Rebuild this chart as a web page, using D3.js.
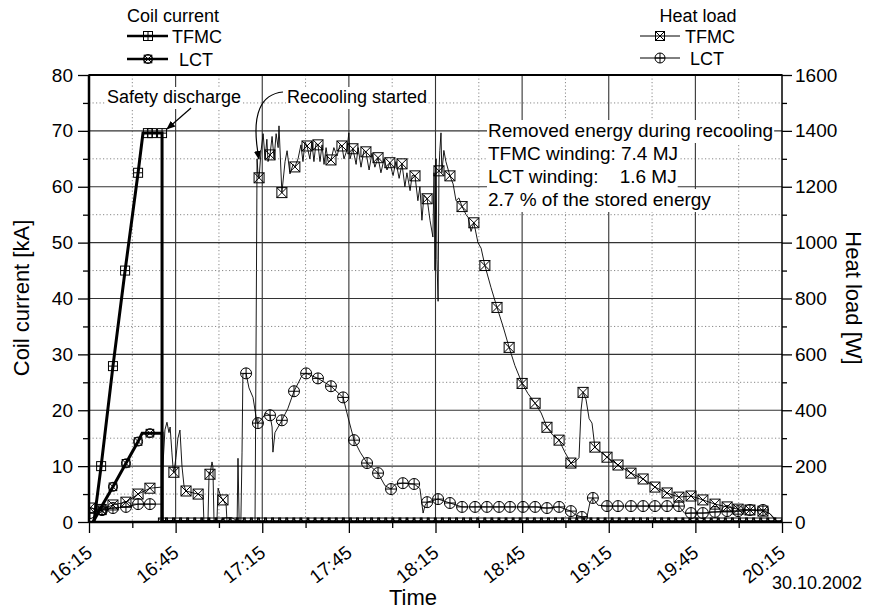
<!DOCTYPE html>
<html><head><meta charset="utf-8">
<script src="https://cdn.jsdelivr.net/npm/d3@7"></script>
<style>
body{margin:0;background:#fff}
svg{display:block}
text{font-family:"Liberation Sans",Arial,Helvetica,sans-serif;fill:#000}
</style>
</head><body>
<svg id="c" width="870" height="611"></svg>
<script>
// ---------------- DATA ----------------
// time values are minutes after 16:15 on 30.10.2002
const xTickLabels = ["16:15","16:45","17:15","17:45","18:15","18:45","19:15","19:45","20:15"];
const coilTicks = [0,10,20,30,40,50,60,70,80];
const heatTicks = [0,200,400,600,800,1000,1200,1400,1600];

// Coil current [kA]
const coilTFMC = [[1.7,0],[4.2,10],[8.3,27.9],[12.5,45],[17.0,62.5],[18.7,69.6],[25.3,69.6],[25.3,0],[240,0]];
const coilTFMCMarkers = [[4.2,10],[8.3,27.9],[12.5,45],[17.0,62.5],[20.4,69.6],[21.8,69.6],[25.3,69.6]];
const coilLCT = [[1.4,0],[4.5,2.9],[8.3,6.3],[12.8,10.5],[17.0,14.4],[18.4,15.9],[25.3,15.9],[25.3,0],[240,0]];
const coilLCTMarkers = [[4.5,2.0],[8.3,6.3],[12.8,10.5],[17.0,14.4],[21.1,15.9]];
const coilZeroFrom = 25.6, coilZeroTo = 240; // both currents are 0 after the safety discharge

// Heat load [W]
const heatTFMC = [[0.3,50],[4.2,45],[8.3,61],[12.8,71],[17.0,100],[21.1,121],[25.3,125],[25.6,200],[26.3,330],[27.0,357],[27.7,320],[28.1,340],[28.7,250],[29.1,196],[29.4,178],[30.1,230],[30.8,300],[31.5,329],[32.2,200],[32.9,130],[33.6,111],[35.7,105],[37.8,100],[39.5,95],[39.8,0],[41.2,0],[41.6,180],[41.9,171],[42.6,215],[42.9,200],[43.3,0],[44.3,0],[44.7,121],[45.7,90],[46.4,79],[47.5,60],[47.8,0],[51.3,0],[51.6,228],[52.0,0],[57.5,0],[58.0,900],[58.2,1300],[58.5,1250],[58.9,1232],[59.6,1330],[60.3,1390],[61.0,1300],[61.6,1370],[62.0,1290],[62.7,1314],[63.4,1380],[64.1,1300],[64.8,1390],[65.5,1340],[65.8,1418],[66.8,1179],[67.9,1290],[68.6,1329],[69.6,1246],[70.7,1280],[71.3,1271],[72.4,1300],[73.4,1350],[74.1,1290],[74.8,1360],[75.5,1346],[76.5,1300],[77.2,1360],[77.9,1290],[78.6,1355],[79.3,1350],[80.0,1290],[80.7,1350],[81.4,1280],[82.1,1340],[82.8,1290],[83.8,1296],[84.8,1340],[85.9,1310],[86.9,1350],[87.6,1346],[88.3,1300],[89.3,1330],[90.0,1393],[90.4,1300],[91.4,1336],[92.5,1280],[93.2,1340],[94.2,1270],[95.2,1330],[95.9,1325],[97.0,1260],[98.0,1320],[99.0,1270],[100.1,1304],[101.1,1250],[102.2,1300],[103.2,1260],[104.2,1286],[105.3,1240],[106.3,1290],[107.4,1230],[108.4,1282],[109.4,1200],[110.1,1250],[111.2,1186],[111.9,1240],[112.9,1239],[113.9,1150],[114.6,1200],[115.3,1080],[116.0,1170],[117.1,1157],[118.1,1080],[119.1,1020],[119.5,1250],[119.8,900],[120.2,1300],[120.5,940],[120.9,790],[121.2,1257],[121.5,1330],[121.9,1393],[122.2,1250],[122.9,1330],[123.6,1290],[125.0,1239],[126.1,1210],[127.1,1150],[128.1,1160],[129.2,1129],[130.6,1100],[131.3,1090],[132.3,1040],[133.3,1071],[134.7,1000],[135.8,980],[137.1,918],[139.2,840],[141.3,768],[143.4,700],[145.5,625],[147.5,560],[150.0,496],[152.0,460],[154.5,425],[156.6,390],[158.6,339],[160.7,310],[162.8,293],[164.8,250],[166.9,211],[168.3,215],[169.7,230],[170.4,400],[171.1,464],[172.1,440],[173.2,370],[174.2,354],[175.2,268],[177.3,250],[179.4,232],[183.2,204],[187.7,175],[191.9,154],[196.0,125],[200.2,104],[204.3,89],[208.5,93],[212.6,79],[216.8,64],[221.0,54],[224.8,46],[228.9,43],[233.4,39],[235.8,30],[237.6,7]];
const heatTFMCMarkers = [[0.3,50],[4.2,45],[8.3,61],[12.8,71],[17.0,100],[21.1,121],[29.4,178],[33.6,111],[37.8,100],[41.9,171],[46.4,79],[58.9,1232],[62.7,1314],[66.8,1179],[71.3,1271],[75.5,1346],[79.3,1350],[83.8,1296],[87.6,1346],[91.4,1336],[95.9,1325],[100.1,1304],[104.2,1286],[108.4,1282],[112.9,1239],[117.1,1157],[121.2,1257],[125.0,1239],[129.2,1129],[133.3,1071],[137.1,918],[141.3,768],[145.5,625],[150.0,496],[154.5,425],[158.6,339],[162.8,293],[166.9,211],[171.1,464],[175.2,268],[179.4,232],[183.2,204],[187.7,175],[191.9,154],[196.0,125],[200.2,104],[204.3,89],[208.5,93],[212.6,79],[216.8,64],[221.0,54],[224.8,46],[228.9,43],[233.4,39]];
const heatLCT = [[0,32],[4.5,43],[8.3,50],[12.8,54],[17.0,64],[21.1,64],[25.3,64],[25.6,5],[45.4,5],[47.1,15],[49.5,15],[51.3,5],[52.6,5],[53.0,250],[53.3,530],[54.4,532],[55.4,480],[56.8,446],[58.2,354],[58.5,354],[59.9,370],[61.3,390],[62.7,382],[63.4,340],[63.7,250],[64.4,320],[66.8,364],[68.9,407],[71.0,468],[73.8,525],[75.2,532],[79.3,514],[83.8,486],[88.0,446],[89.7,375],[91.8,293],[93.9,250],[96.3,211],[100.1,175],[102.5,130],[104.6,118],[106.0,135],[108.7,139],[112.6,136],[114.6,120],[115.7,32],[116.4,60],[117.1,71],[120.9,82],[125.0,68],[129.2,54],[133.7,54],[137.8,54],[142.0,54],[145.8,54],[150.3,54],[154.5,54],[158.6,50],[162.8,54],[166.9,39],[168.6,25],[170.7,18],[172.5,20],[173.5,70],[174.5,86],[176.3,60],[179.4,57],[183.2,57],[187.7,57],[191.9,57],[196.0,57],[200.2,57],[204.3,57],[206.4,30],[208.5,32],[212.6,32],[216.8,36],[221.0,39],[224.8,39],[228.9,43],[233.4,43],[235.8,30],[237.6,11]];
const heatLCTMarkers = [[0.3,32],[4.5,43],[8.3,50],[12.8,54],[17.0,64],[21.1,64],[54.4,532],[58.5,354],[62.7,382],[66.8,364],[71.0,468],[75.2,532],[79.3,514],[83.8,486],[88.0,446],[91.8,293],[96.3,211],[100.1,175],[104.6,118],[108.7,139],[112.6,136],[117.1,71],[120.9,82],[125.0,68],[129.2,54],[133.7,54],[137.8,54],[142.0,54],[145.8,54],[150.3,54],[154.5,54],[158.6,50],[162.8,54],[166.9,39],[170.7,18],[174.5,86],[179.4,57],[183.2,57],[187.7,57],[191.9,57],[196.0,57],[200.2,57],[204.3,57],[208.5,32],[212.6,32],[216.8,36],[221.0,39],[224.8,39],[228.9,43],[233.4,43]];

const annotationLines = ["Removed energy during recooling","TFMC winding: 7.4 MJ","LCT winding:\u00a0\u00a0\u00a0\u00a01.6 MJ","2.7 % of the stored energy"];

// ---------------- CHART ----------------
const svg = d3.select("#c");
const L=89, R=782, T=75, B=522;
const base = new Date(2002,9,30,16,15,0);
const tm = m => new Date(base.getTime()+m*60000);
const parseHM = d3.timeParse("%Y-%m-%d %H:%M");
const xMajor = xTickLabels.map(s => parseHM("2002-10-30 "+s));
const xMinor = xMajor.slice(0,-1).map(d => new Date(d.getTime()+15*60000));

const x = d3.scaleTime().domain([xMajor[0], xMajor[xMajor.length-1]]).range([L,R]);
const yC = d3.scaleLinear().domain([0,80]).range([B,T]);
const yH = d3.scaleLinear().domain([0,1600]).range([B,T]);
const coilMinor = coilTicks.slice(0,-1).map(v=>v+5);

svg.append("rect").attr("width",870).attr("height",611).attr("fill","#fff");
svg.append("defs").append("clipPath").attr("id","plot").append("rect")
  .attr("x",L).attr("y",T-8).attr("width",R-L).attr("height",B-T+8);

// grid
const grid = svg.append("g");
grid.selectAll(".hm").data(coilMinor).join("line")
  .attr("x1",L).attr("x2",R).attr("y1",d=>yC(d)).attr("y2",d=>yC(d))
  .attr("stroke","#888").attr("stroke-width",1).attr("stroke-dasharray","1.2,2.3");
grid.selectAll(".vm").data(xMinor).join("line")
  .attr("y1",T).attr("y2",B).attr("x1",d=>x(d)).attr("x2",d=>x(d))
  .attr("stroke","#888").attr("stroke-width",1).attr("stroke-dasharray","1.2,2.3");
grid.selectAll(".hM").data(coilTicks.slice(1,-1)).join("line")
  .attr("x1",L).attr("x2",R).attr("y1",d=>yC(d)).attr("y2",d=>yC(d))
  .attr("stroke","#333").attr("stroke-width",1.1);
grid.selectAll(".vM").data(xMajor.slice(1,-1)).join("line")
  .attr("y1",T).attr("y2",B).attr("x1",d=>x(d)).attr("x2",d=>x(d))
  .attr("stroke","#333").attr("stroke-width",1.1);

// annotation boxes (white background text)
function boxedText(g, tx, ty, str, size, anchor){
  const t = g.append("text").attr("x",tx).attr("y",ty).attr("font-size",size)
    .attr("text-anchor",anchor||"start").text(str);
  const bb = t.node().getBBox();
  g.insert("rect","text").attr("x",bb.x-1).attr("y",bb.y).attr("width",bb.width+2).attr("height",bb.height+2).attr("fill","#fff");
  return t;
}

// markers
function marker(g, type, cx, cy, s){
  const h = s/2;
  const m = g.append("g").attr("fill","none").attr("stroke","#000").attr("stroke-width",1);
  if (type==="sqPlus"){
    m.append("rect").attr("x",cx-h).attr("y",cy-h).attr("width",s).attr("height",s);
    m.append("path").attr("d",`M${cx-h},${cy}H${cx+h}M${cx},${cy-h}V${cy+h}`);
  } else if (type==="sqX"){
    m.append("rect").attr("x",cx-h).attr("y",cy-h).attr("width",s).attr("height",s);
    m.append("path").attr("d",`M${cx-h},${cy-h}L${cx+h},${cy+h}M${cx-h},${cy+h}L${cx+h},${cy-h}`);
  } else if (type==="cirX"){
    m.append("circle").attr("cx",cx).attr("cy",cy).attr("r",h);
    m.append("rect").attr("x",cx-h*0.85).attr("y",cy-h*0.85).attr("width",s*0.85).attr("height",s*0.85);
    m.append("path").attr("d",`M${cx-h*0.7},${cy-h*0.7}L${cx+h*0.7},${cy+h*0.7}M${cx-h*0.7},${cy+h*0.7}L${cx+h*0.7},${cy-h*0.7}`);
  } else if (type==="cirPlus"){
    m.append("circle").attr("cx",cx).attr("cy",cy).attr("r",h);
    m.append("path").attr("d",`M${cx-h},${cy}H${cx+h}M${cx},${cy-h}V${cy+h}`);
  }
}

const plot = svg.append("g").attr("clip-path","url(#plot)");
const lineC = d3.line().x(d=>x(tm(d[0]))).y(d=>yC(d[1]));
const lineH = d3.line().x(d=>x(tm(d[0]))).y(d=>yH(d[1]));

// heat load lines (thin)
plot.append("path").attr("d",lineH(heatLCT)).attr("fill","none").attr("stroke","#000").attr("stroke-width",0.9);
plot.append("path").attr("d",lineH(heatTFMC)).attr("fill","none").attr("stroke","#000").attr("stroke-width",0.9);
heatLCTMarkers.forEach(d=>marker(plot,"cirPlus",x(tm(d[0])),yH(d[1]),11));
heatTFMCMarkers.forEach(d=>marker(plot,"sqX",x(tm(d[0])),yH(d[1]),10));

// coil current lines (thick)
plot.append("path").attr("d",lineC(coilLCT)).attr("fill","none").attr("stroke","#000").attr("stroke-width",3);
plot.append("path").attr("d",lineC(coilTFMC)).attr("fill","none").attr("stroke","#000").attr("stroke-width",3);
coilTFMCMarkers.forEach(d=>marker(plot,"sqPlus",x(tm(d[0])),yC(d[1]),9));
coilLCTMarkers.forEach(d=>marker(plot,"cirX",x(tm(d[0])),yC(d[1]),9));
// zero-current symbols along the baseline (clipped, half visible)
const zeroClip = svg.append("defs").append("clipPath").attr("id","zc").append("rect")
  .attr("x",L).attr("y",T).attr("width",R-L).attr("height",B-T);
const zg = svg.append("g").attr("clip-path","url(#zc)");
d3.range(coilZeroFrom, coilZeroTo, 2.45).forEach(m=>marker(zg,"sqX",x(tm(m)),yC(0)+0.5,9));

// frame
svg.append("rect").attr("x",L).attr("y",T).attr("width",R-L).attr("height",B-T)
  .attr("fill","none").attr("stroke","#000").attr("stroke-width",1.5);
svg.append("line").attr("x1",L).attr("x2",L).attr("y1",T).attr("y2",B).attr("stroke","#000").attr("stroke-width",2.5);
svg.append("line").attr("x1",L).attr("x2",R).attr("y1",T).attr("y2",T).attr("stroke","#000").attr("stroke-width",2);
svg.append("line").attr("x1",L).attr("x2",R).attr("y1",B).attr("y2",B).attr("stroke","#000").attr("stroke-width",2.5);

// axes
const FS = 19;
function styleAxis(g){
  g.select(".domain").remove();
  g.selectAll("line").attr("stroke","#000").attr("stroke-width",1.3);
  g.selectAll("text").attr("font-size",FS).attr("font-family","'Liberation Sans',Arial,sans-serif").attr("fill","#000");
}
svg.append("g").attr("transform",`translate(${L},0)`)
  .call(d3.axisLeft(yC).tickValues(coilTicks).tickSize(11).tickPadding(5)).call(styleAxis);
svg.append("g").attr("transform",`translate(${L},0)`)
  .call(d3.axisLeft(yC).tickValues(coilMinor).tickSize(6).tickFormat("")).call(styleAxis);
svg.append("g").attr("transform",`translate(${R},0)`)
  .call(d3.axisRight(yH).tickValues(heatTicks).tickSize(10).tickPadding(3).tickFormat(d3.format("d"))).call(styleAxis);
svg.append("g").attr("transform",`translate(${R},0)`)
  .call(d3.axisRight(yH).tickValues(coilMinor.map(v=>v*20)).tickSize(5).tickFormat("")).call(styleAxis);
const xa = svg.append("g").attr("transform",`translate(0,${B})`)
  .call(d3.axisBottom(x).tickValues(xMajor).tickSize(11).tickFormat(d3.timeFormat("%H:%M"))).call(styleAxis);
xa.selectAll("text").attr("text-anchor","end").attr("x",4).attr("y",33).attr("dy",0)
  .attr("transform","rotate(-38 4 33)");
svg.append("g").attr("transform",`translate(0,${B})`)
  .call(d3.axisBottom(x).tickValues(xMinor).tickSize(6).tickFormat("")).call(styleAxis);

// axis titles
svg.append("text").attr("transform","translate(29,298) rotate(-90)").attr("text-anchor","middle")
  .attr("font-size",22).text("Coil current [kA]");
svg.append("text").attr("transform","translate(846,298) rotate(90)").attr("text-anchor","middle")
  .attr("font-size",22).text("Heat load [W]");
svg.append("text").attr("x",413).attr("y",605).attr("text-anchor","middle").attr("font-size",22).text("Time");
svg.append("text").attr("x",862).attr("y",589).attr("text-anchor","end").attr("font-size",18).text("30.10.2002");

// annotations
const ann = svg.append("g");
boxedText(ann, 107, 103, "Safety discharge", 18);
boxedText(ann, 287, 103, "Recooling started", 18);
annotationLines.forEach((s,i)=>boxedText(ann, 488, 137+i*23, s, 19));

// arrows
const defs = svg.append("defs");
defs.append("marker").attr("id","ah").attr("viewBox","0 0 10 10").attr("refX",9).attr("refY",5)
  .attr("markerWidth",9).attr("markerHeight",9).attr("markerUnits","userSpaceOnUse").attr("orient","auto")
  .append("path").attr("d","M0,1L10,5L0,9Z").attr("fill","#000");
ann.append("path").attr("d","M191,108L167,129").attr("stroke","#000").attr("stroke-width",1.2).attr("fill","none").attr("marker-end","url(#ah)");
ann.append("path").attr("d","M283,92C262,94 250,112 259,159").attr("stroke","#000").attr("stroke-width",1.2).attr("fill","none").attr("marker-end","url(#ah)");

// legends
const lg = svg.append("g");
lg.append("text").attr("x",173).attr("y",22).attr("text-anchor","middle").attr("font-size",18).text("Coil current");
lg.append("line").attr("x1",127).attr("x2",168).attr("y1",36).attr("y2",36).attr("stroke","#000").attr("stroke-width",2.5);
marker(lg,"sqPlus",148,36,9);
lg.append("text").attr("x",197).attr("y",43).attr("text-anchor","middle").attr("font-size",18).text("TFMC");
lg.append("line").attr("x1",127).attr("x2",168).attr("y1",59).attr("y2",59).attr("stroke","#000").attr("stroke-width",2.5);
marker(lg,"cirX",148,59,9);
lg.append("text").attr("x",196).attr("y",66).attr("text-anchor","middle").attr("font-size",18).text("LCT");

lg.append("text").attr("x",698).attr("y",22).attr("text-anchor","middle").attr("font-size",18).text("Heat load");
lg.append("line").attr("x1",640).attr("x2",680).attr("y1",36).attr("y2",36).attr("stroke","#000").attr("stroke-width",1);
marker(lg,"sqX",660,36,9);
lg.append("text").attr("x",710).attr("y",43).attr("text-anchor","middle").attr("font-size",18).text("TFMC");
lg.append("line").attr("x1",640).attr("x2",680).attr("y1",58).attr("y2",58).attr("stroke","#000").attr("stroke-width",1);
marker(lg,"cirPlus",660,58,10);
lg.append("text").attr("x",707).attr("y",65).attr("text-anchor","middle").attr("font-size",18).text("LCT");
</script>
</body></html>
